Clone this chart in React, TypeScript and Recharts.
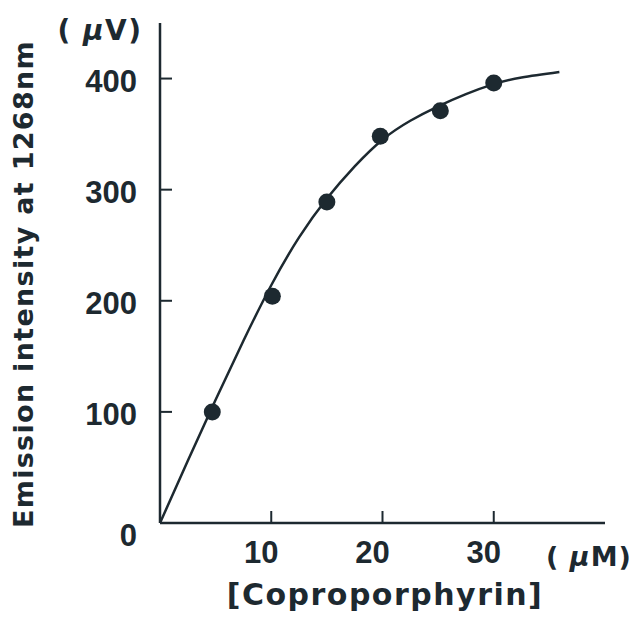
import React from "react";
import {
  ComposedChart,
  Line,
  Scatter,
  XAxis,
  YAxis,
  Label,
} from "recharts";

// measured points (concentration in µM, emission in µV)
const pointX = [4.7, 10.1, 15.0, 19.8, 25.2, 30.0];
const pointY = [100, 204, 289, 348, 371, 396];

// fitted saturation curve
const curveX = [0, 2.5, 5, 7.5, 10, 12.5, 15, 17.5, 20, 22.5, 25, 27.5, 30, 32.5, 35.9];
const curveY = [0, 56, 111, 164, 214, 257, 292, 321, 345, 362, 375, 386, 395, 401, 406];

const xTicks = [10, 20, 30];
const yTicks = [0, 100, 200, 300, 400];

const INK = "#1d2930";
const TICK_FONT = "'Liberation Sans', Arial, sans-serif";
const LABEL_FONT = "'DejaVu Sans', sans-serif";

const points = pointX.map((x, i) => ({ x, y: pointY[i] }));
const curve = curveX.map((x, i) => ({ x, y: curveY[i] }));

function XTick(props: any) {
  const { x, y, payload } = props;
  return (
    <text x={x - 10} y={y} dy="0.36em" textAnchor="middle" fill={INK}
      fontSize={31} fontWeight={700} fontFamily={TICK_FONT}>
      {payload.value}
    </text>
  );
}

function YTick(props: any) {
  const { x, y, payload } = props;
  // the origin label sits a little below the axis
  const shift = payload.value === 0 ? 12 : 2;
  return (
    <text x={x} y={y + shift} dy="0.36em" textAnchor="end" fill={INK}
      fontSize={31} fontWeight={700} fontFamily={TICK_FONT}>
      {payload.value}
    </text>
  );
}

function Dot(props: any) {
  const { cx, cy } = props;
  return <circle cx={cx} cy={cy} r={8.5} fill={INK} />;
}

function YTitle() {
  return (
    <g fill={INK} fontFamily={LABEL_FONT} fontWeight={700}>
      <text
        x={33}
        y={284}
        transform="rotate(-90 33 284)"
        textAnchor="middle"
        fontSize={27}
        letterSpacing={1.3}
      >
        Emission intensity at 1268nm
      </text>
      <text x={100} y={40} textAnchor="middle" fontSize={28} letterSpacing={1.5}>
        ( <tspan fontStyle="italic">μ</tspan>V)
      </text>
    </g>
  );
}

function XTitle() {
  return (
    <g fill={INK} fontFamily={LABEL_FONT} fontWeight={700}>
      <text x={385} y={605} textAnchor="middle" fontSize={30} letterSpacing={1.5}>
        [Coproporphyrin]
      </text>
      <text x={589} y={566} textAnchor="middle" fontSize={27} letterSpacing={1}>
        ( <tspan fontStyle="italic">μ</tspan>M)
      </text>
    </g>
  );
}

export default function App() {
  return (
    <div style={{ position: "absolute", left: 0, top: 0, background: "#fff" }}>
      <ComposedChart
        width={632}
        height={628}
        margin={{ top: 23, right: 27, bottom: 0, left: 0 }}
      >
        <XAxis
          type="number"
          dataKey="x"
          domain={[0, 40]}
          ticks={xTicks}
          allowDataOverflow
          height={105}
          axisLine={{ stroke: INK, strokeWidth: 2.5 }}
          tickLine={{ stroke: INK, strokeWidth: 2 }}
          tickSize={-12}
          tickMargin={41}
          tick={<XTick />}
        >
          <Label content={<XTitle />} />
        </XAxis>
        <YAxis
          type="number"
          dataKey="y"
          domain={[0, 450]}
          ticks={yTicks}
          allowDataOverflow
          width={160}
          axisLine={{ stroke: INK, strokeWidth: 2.5 }}
          tickLine={{ stroke: INK, strokeWidth: 2 }}
          tickSize={-12}
          tickMargin={35}
          tick={<YTick />}
        >
          <Label content={<YTitle />} />
        </YAxis>
        <Line
          data={curve}
          dataKey="y"
          type="natural"
          stroke={INK}
          strokeWidth={2.5}
          dot={false}
          activeDot={false}
          isAnimationActive={false}
        />
        <Scatter
          data={points}
          dataKey="y"
          fill={INK}
          shape={<Dot />}
          isAnimationActive={false}
        />
      </ComposedChart>
    </div>
  );
}
